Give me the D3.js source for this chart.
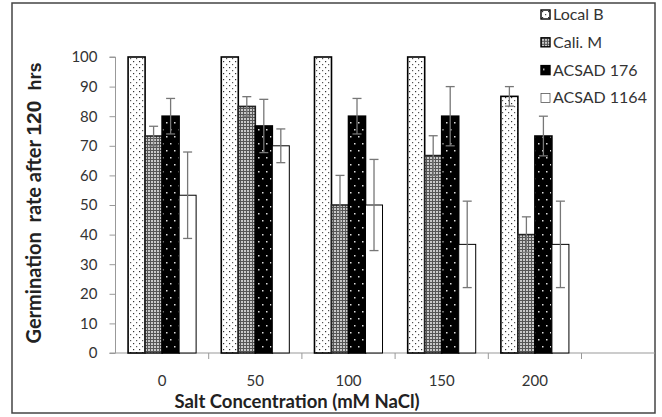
<!DOCTYPE html>
<html>
<head>
<meta charset="utf-8">
<script src="https://cdn.jsdelivr.net/npm/d3@7"></script>
<style>
  body { margin: 0; background: #fff; }
  text { font-family: Lato, "Open Sans", sans-serif; fill: #222; }
  .axis path, .axis line { stroke: #999; }
</style>
</head>
<body>
<div id="chart"></div>
<script>
// salt concentrations (mM NaCl)
let categories = ["0", "50", "100", "150", "200"];
let series = ["Local B", "Cali. M", "ACSAD 176", "ACSAD 1164"];
// germination rate (%) per variety, in the order of categories
let localB = [100, 100, 100, 100, 86.7];
let caliM = [73.3, 83.3, 50, 66.7, 40];
let acsad176 = [80, 76.7, 80, 80, 73.3];
let acsad1164 = [53.3, 70, 50, 36.7, 36.7];
// error (+/-)
let errLocalB = [0, 0, 0, 0, 3.3];
let errCaliM = [3.3, 3.3, 10, 6.7, 6];
let errAcsad176 = [6, 9, 6, 10, 6.7];
let errAcsad1164 = [14.6, 5.7, 15.4, 14.6, 14.6];
let yTicks = [0, 10, 20, 30, 40, 50, 60, 70, 80, 90, 100];

let values = [localB, caliM, acsad176, acsad1164];
let errors = [errLocalB, errCaliM, errAcsad176, errAcsad1164];
let fills = ["url(#dotsLight)", "url(#checker)", "url(#dotsDark)", "#fff"];
let strokes = ["#000", "#222", "#000", "#000"];

let data = [];
categories.forEach((c, i) => {
    series.forEach((s, j) => {
        data.push({cat: c, series: s, idx: j, value: values[j][i], err: errors[j][i]});
    });
});

let width = 662;
let height = 417;
let plotLeft = 115.5;
let plotRight = 581.5;
let plotTop = 57;
let plotBottom = 353;
let frameRight = 655;

let svg = d3.select("#chart")
    .append("svg")
    .attr("width", width)
    .attr("height", height);

let defs = svg.append("defs");

let p1 = defs.append("pattern")
    .attr("id", "dotsLight")
    .attr("patternUnits", "userSpaceOnUse")
    .attr("width", 6).attr("height", 6);
p1.append("rect").attr("width", 6).attr("height", 6).attr("fill", "#fff");
p1.append("rect").attr("x", 1).attr("y", 1).attr("width", 1.2).attr("height", 1.2).attr("fill", "#333");
p1.append("rect").attr("x", 4).attr("y", 4).attr("width", 1.2).attr("height", 1.2).attr("fill", "#555");

let p2 = defs.append("pattern")
    .attr("id", "checker")
    .attr("patternUnits", "userSpaceOnUse")
    .attr("width", 3).attr("height", 3);
p2.append("rect").attr("width", 3).attr("height", 3).attr("fill", "#c8c8c8");
p2.append("rect").attr("width", 3).attr("height", 1).attr("fill", "#555");
p2.append("rect").attr("width", 1).attr("height", 3).attr("fill", "#555");

let p3 = defs.append("pattern")
    .attr("id", "dotsDark")
    .attr("patternUnits", "userSpaceOnUse")
    .attr("width", 8).attr("height", 14);
p3.append("rect").attr("width", 8).attr("height", 14).attr("fill", "#000");
p3.append("rect").attr("x", 2).attr("y", 3).attr("width", 1.5).attr("height", 1.5).attr("fill", "#ddd");
p3.append("rect").attr("x", 6).attr("y", 10).attr("width", 1.5).attr("height", 1.5).attr("fill", "#ddd");

// outer frame
svg.append("rect")
    .attr("x", 12)
    .attr("y", 3)
    .attr("width", frameRight - 12)
    .attr("height", 410)
    .attr("fill", "none")
    .attr("stroke", "#444")
    .attr("stroke-width", 1.5);

let x = d3.scaleBand()
    .domain(categories)
    .range([plotLeft, plotRight]);

let x1 = d3.scaleBand()
    .domain(series)
    .range([0, x.bandwidth()])
    .paddingOuter(0.74);

let y = d3.scaleLinear()
    .domain([0, 100])
    .range([plotBottom, plotTop]);

let yAxis = d3.axisLeft(y)
    .tickValues(yTicks)
    .tickSize(6)
    .tickPadding(12);

let gy = svg.append("g")
    .attr("class", "axis")
    .attr("transform", "translate(" + plotLeft + ",0)")
    .call(yAxis);
gy.select(".domain").attr("d", "M-6," + plotTop + "H0V" + plotBottom);
gy.selectAll("text").style("font-size", "15px").style("fill", "#333");

// x axis line and boundary ticks
svg.append("line")
    .attr("x1", plotLeft - 6).attr("x2", frameRight)
    .attr("y1", plotBottom).attr("y2", plotBottom)
    .attr("stroke", "#999");

svg.selectAll(".xtick")
    .data(categories)
    .enter()
    .append("line")
    .attr("class", "xtick")
    .attr("x1", d => x(d) + x.step())
    .attr("x2", d => x(d) + x.step())
    .attr("y1", plotBottom)
    .attr("y2", plotBottom + 6)
    .attr("stroke", "#999");

svg.selectAll(".xlabel")
    .data(categories)
    .enter()
    .append("text")
    .attr("class", "xlabel")
    .attr("x", d => x(d) + x.bandwidth() / 2)
    .attr("y", 386)
    .attr("text-anchor", "middle")
    .style("font-size", "15px")
    .style("fill", "#333")
    .text(d => d);

// bars
svg.selectAll(".bar")
    .data(data)
    .enter()
    .append("rect")
    .attr("class", "bar")
    .attr("x", d => x(d.cat) + x1(d.series))
    .attr("y", d => y(d.value))
    .attr("width", x1.bandwidth())
    .attr("height", d => y(0) - y(d.value))
    .attr("fill", d => fills[d.idx])
    .attr("stroke", d => strokes[d.idx])
    .attr("stroke-width", d => d.idx == 3 ? 1 : 1.6);

// error bars
let errData = data.filter(d => d.err > 0);
let eb = svg.selectAll(".err")
    .data(errData)
    .enter()
    .append("g")
    .attr("class", "err")
    .attr("stroke", "#777")
    .attr("stroke-width", 1.3);

eb.append("line")
    .attr("x1", d => x(d.cat) + x1(d.series) + x1.bandwidth() / 2)
    .attr("x2", d => x(d.cat) + x1(d.series) + x1.bandwidth() / 2)
    .attr("y1", d => y(d.value + d.err))
    .attr("y2", d => y(d.value - d.err));

[1, -1].forEach(sign => {
    eb.append("line")
        .attr("x1", d => x(d.cat) + x1(d.series) + x1.bandwidth() / 2 - 4.5)
        .attr("x2", d => x(d.cat) + x1(d.series) + x1.bandwidth() / 2 + 4.5)
        .attr("y1", d => y(d.value + sign * d.err))
        .attr("y2", d => y(d.value + sign * d.err));
});

// legend
let legend = svg.selectAll(".legend")
    .data(series)
    .enter()
    .append("g")
    .attr("class", "legend")
    .attr("transform", (d, i) => "translate(541," + (10 + i * 27.8) + ")");

legend.append("rect")
    .attr("width", 9)
    .attr("height", 9)
    .attr("fill", (d, i) => fills[i])
    .attr("stroke", (d, i) => i == 3 ? "#555" : "#000")
    .attr("stroke-width", (d, i) => i == 3 ? 0.8 : 1.4);

legend.append("text")
    .attr("x", 12)
    .attr("y", 10)
    .style("font-size", "16px")
    .style("fill", "#333")
    .text(d => d);

// axis titles
svg.append("text")
    .attr("x", 297)
    .attr("y", 408)
    .attr("text-anchor", "middle")
    .style("font-size", "18.5px")
    .style("font-weight", "bold")
    .text("Salt Concentration (mM NaCl)");

let yTitle = svg.append("text")
    .attr("transform", "translate(41,203) rotate(-90)")
    .attr("text-anchor", "middle")
    .style("font-weight", "bold")
    .style("white-space", "pre");
yTitle.append("tspan").style("font-size", "20px").text("Germination  rate after ");
yTitle.append("tspan").style("font-size", "21px").style("font-family", "Liberation Sans, Arial, sans-serif").text("120");
yTitle.append("tspan").style("font-size", "18px").style("font-family", "Liberation Sans, Arial, sans-serif").text("  hrs");
</script>
</body>
</html>
